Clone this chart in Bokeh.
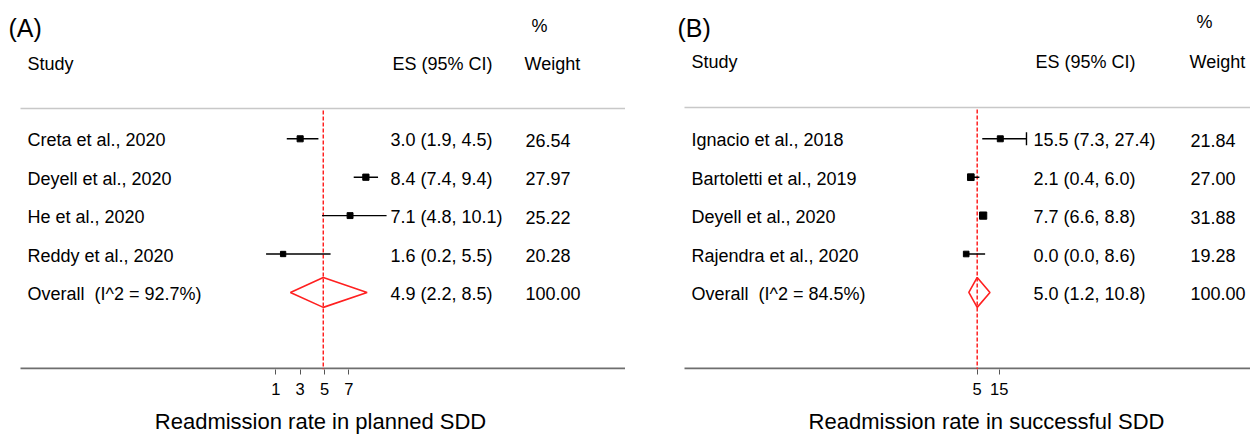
from bokeh.plotting import figure
from bokeh.layouts import row, column
from bokeh.models import Range1d, FixedTicker, ColumnDataSource
from bokeh.core.properties import value
from bokeh.embed import file_html
from bokeh.resources import INLINE

FONT = "Arial"

# ---- Panel A: readmission rate in planned same-day discharge ----
studies_a = ["Creta et al., 2020", "Deyell et al., 2020", "He et al., 2020", "Reddy et al., 2020"]
es_a = [3.0, 8.4, 7.1, 1.6]
lo_a = [1.9, 7.4, 4.8, 0.2]
hi_a = [4.5, 9.4, 10.1, 5.5]
weight_a = [26.54, 27.97, 25.22, 20.28]
overall_a = [4.9, 2.2, 8.5]
i2_a = 92.7
ticks_a = [1, 3, 5, 7]

# ---- Panel B: readmission rate in successful same-day discharge ----
studies_b = ["Ignacio et al., 2018", "Bartoletti et al., 2019", "Deyell et al., 2020", "Rajendra et al., 2020"]
es_b = [15.5, 2.1, 7.7, 0.0]
lo_b = [7.3, 0.4, 6.6, 0.0]
hi_b = [27.4, 6.0, 8.8, 8.6]
weight_b = [21.84, 27.00, 31.88, 19.28]
overall_b = [5.0, 1.2, 10.8]
i2_b = 84.5
ticks_b = [5, 15]

# page geometry (pixels from the top-left of each panel)
W = 625
H = 437
AXIS_Y = 369          # frame bottom / x-axis rule
TOP_H = 402           # forest figure incl. tick labels
ROW0 = 138.3
ROW_STEP = 38.4


def ry(px):
    """pixel position from the top -> y value in row units"""
    return (px - ROW0) / ROW_STEP


def base_fig(**kw):
    p = figure(output_backend="svg", toolbar_location=None,
               min_border_left=0, min_border_right=0, min_border_top=0,
               **kw)
    p.outline_line_color = None
    p.grid.visible = False
    p.background_fill_color = "white"
    p.border_fill_color = "white"
    return p


def forest(tag, title, studies, es, lo, hi, wts, overall, i2, ticks,
           axis_left, ppu, ref_val, ref_px, cols, tag_px, title_center,
           tag_y, pct_y, head_y, sep_y, box_k, cap_end=False):
    x0 = ref_val - ref_px / ppu

    def rx(px):
        return x0 + px / ppu

    p = base_fig(width=W, height=TOP_H,
                 x_range=Range1d(x0, x0 + W / ppu),
                 y_range=Range1d(ry(AXIS_Y), ry(0)),
                 min_border_bottom=TOP_H - AXIS_Y,
                 y_axis_location=None)

    ax = p.xaxis[0]
    ax.ticker = FixedTicker(ticks=ticks)
    ax.minor_tick_line_color = None
    ax.axis_line_color = None
    ax.major_tick_line_color = "#555555"
    ax.major_tick_line_width = 1
    ax.major_tick_in = 0
    ax.major_tick_out = 5
    ax.major_label_text_font = FONT
    ax.major_label_text_font_size = "16.5px"
    ax.major_label_text_color = "black"
    ax.major_label_standoff = 8

    # axis rule, starting a little in from the panel edge
    p.segment(x0=[rx(axis_left)], x1=[rx(W)], y0=[ry(AXIS_Y - 1)], y1=[ry(AXIS_Y - 1)],
              line_color="#6e6e6e", line_width=2)

    n = len(studies)
    rows = list(range(n))
    ov_row = n

    # separator under the header
    p.segment(x0=[rx(axis_left)], x1=[rx(W)], y0=[ry(sep_y)], y1=[ry(sep_y)],
              line_color="#c8c8c8", line_width=1.5)

    # reference line at the pooled estimate
    p.segment(x0=[overall[0]], x1=[overall[0]], y0=[ry(sep_y + 2)], y1=[ry(AXIS_Y)],
              line_color="#ff2020", line_width=1.5, line_dash="4 2")

    # study confidence intervals and weighted boxes
    src = ColumnDataSource(dict(y=rows, es=es, lo=lo, hi=hi,
                                size=[box_k * w ** 0.5 for w in wts]))
    p.segment(x0="lo", x1="hi", y0="y", y1="y", source=src,
              line_color="black", line_width=1.4)
    p.scatter(x="es", y="y", size="size", marker="square", source=src,
              fill_color="black", line_color="black")
    if cap_end:
        i = 0
        p.segment(x0=[hi[i]], x1=[hi[i]], y0=[rows[i] - 0.17], y1=[rows[i] + 0.17],
                  line_color="black", line_width=1.4)

    # pooled estimate diamond
    est, olo, ohi = overall
    p.patch(x=[olo, est, ohi, est, olo], y=[ov_row, ov_row - 0.39, ov_row, ov_row + 0.39, ov_row],
            fill_color=None, line_color="#ff2020", line_width=1.6)

    # text columns
    labels = studies + [f"Overall\u00a0 (I^2 = {i2:.1f}%)"]
    es_txt = [f"{e:.1f} ({l:.1f}, {h:.1f})" for e, l, h in zip(es, lo, hi)]
    es_txt.append(f"{est:.1f} ({olo:.1f}, {ohi:.1f})")
    w_txt = [f"{w:.2f}" for w in wts] + [f"{100:.2f}"]
    yy = [r + 0.04 for r in rows + [ov_row]]

    txt = dict(text_font=value(FONT), text_font_size=value("18px"), text_color="black",
               text_baseline="middle", text_align="left")
    p.text(x=[rx(cols[0])] * len(yy), y=yy, text=labels, **txt)
    p.text(x=[rx(cols[1])] * len(yy), y=yy, text=es_txt, **txt)
    p.text(x=[rx(cols[2])] * len(yy), y=yy, text=w_txt, **txt)

    # header
    p.text(x=[rx(cols[0]), rx(cols[1] + 2), rx(cols[2] - 1)],
           y=[ry(head_y)] * 3, text=["Study", "ES (95% CI)", "Weight"], **txt)
    p.text(x=[rx(cols[2] + 6)], y=[ry(pct_y)], text=["%"], **txt)
    p.text(x=[rx(tag_px)], y=[ry(tag_y)], text=[tag], text_font=value(FONT),
           text_font_size=value("25px"), text_color="black",
           text_baseline="middle", text_align="left")

    # caption strip under the axis
    cap = base_fig(width=W, height=H - TOP_H,
                   x_range=Range1d(0, W), y_range=Range1d(H, TOP_H),
                   min_border_bottom=0, x_axis_location=None, y_axis_location=None)
    cap.text(x=[title_center], y=[421], text=[title], text_font=value(FONT),
             text_font_size=value("22px"), text_color="black",
             text_baseline="middle", text_align="center")
    return column(p, cap, spacing=0)


pa = forest("(A)", "Readmission rate in planned SDD", studies_a, es_a, lo_a, hi_a,
            weight_a, overall_a, i2_a, ticks_a,
            axis_left=20, ppu=12.17, ref_val=5, ref_px=324,
            cols=[27, 390, 525], tag_px=8, title_center=320,
            tag_y=27, pct_y=25, head_y=63, sep_y=108, box_k=1.18)

pb = forest("(B)", "Readmission rate in successful SDD", studies_b, es_b, lo_b, hi_b,
            weight_b, overall_b, i2_b, ticks_b,
            axis_left=684 - 625, ppu=2.2, ref_val=5, ref_px=976.7 - 625,
            cols=[691 - 625, 1033 - 625, 1190 - 625], tag_px=677 - 625,
            title_center=986 - 625,
            tag_y=27, pct_y=21, head_y=61, sep_y=107, box_k=1.28, cap_end=True)

layout = row(pa, pb, spacing=0)
open("out.html", "w").write(file_html(layout, INLINE))
